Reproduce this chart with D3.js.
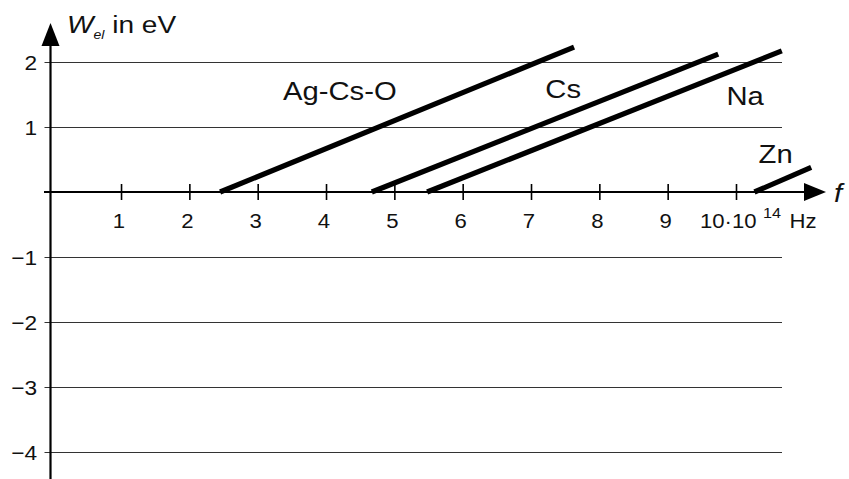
<!DOCTYPE html>
<html><head><meta charset="utf-8">
<script src="https://cdn.jsdelivr.net/npm/d3@7"></script>
<style>
body{margin:0;background:#fff}
svg text{font-family:"Liberation Sans",Arial,Helvetica,sans-serif;fill:#111}
</style></head>
<body><svg id="c" width="849" height="479"></svg>
<script>
// ---- data ----
const xTicks = [1, 2, 3, 4, 5, 6, 7, 8, 9, 10];
const xTickLabels = ["1", "2", "3", "4", "5", "6", "7", "8", "9"];
const yTicks = [2, 1, -1, -2, -3, -4];
const yTickLabels = ["2", "1", "\u22121", "\u22122", "\u22123", "\u22124"];
const seriesNames = ["Ag-Cs-O", "Cs", "Na", "Zn"];
const thresholdFreq = [2.45, 4.67, 5.48, 10.27];   // 10^14 Hz, W_el = 0
const endFreq = [7.63, 9.74, 10.67, 11.1];         // 10^14 Hz
const endEnergy = [2.23, 2.12, 2.17, 0.38];        // eV
// label anchors in data units (f, W)
const labelFreq = [3.37, 7.21, 9.86, 10.33];
const labelEnergy = [1.42, 1.45, 1.34, 0.45];

// ---- layout ----
const svg = d3.select("#c");
const x = d3.scaleLinear().domain([0, 10]).range([52.7, 736]);
const y = d3.scaleLinear().domain([0, 2]).range([192, 62]);
const SX = 1.17;  // horizontal stretch for large labels
const SXT = 1.08; // horizontal stretch for tick labels
const axisX = 50.5;
const gridRight = 782;

function stretchedText(g, px, py, str, size, anchor, sx) {
  return g.append("text")
    .attr("transform", `translate(${px},${py}) scale(${sx || SX},1)`)
    .attr("text-anchor", anchor || "start")
    .attr("font-size", size)
    .text(str);
}

// grid lines
svg.append("g").selectAll("line").data(yTicks).join("line")
  .attr("x1", axisX - 6).attr("x2", gridRight)
  .attr("y1", d => Math.round(y(d)) + 0.5).attr("y2", d => Math.round(y(d)) + 0.5)
  .attr("stroke", "#333").attr("stroke-width", 1);

// y tick labels
yTicks.forEach((d, i) => {
  stretchedText(svg, 37, Math.round(y(d)) + 7.5, yTickLabels[i], 21, "end", SXT);
});

// x axis ticks via d3 axis
const y0 = y(0);
const xAxisG = svg.append("g")
  .attr("transform", `translate(0,${Math.round(y0) - 8})`)
  .call(d3.axisBottom(x).tickValues(xTicks).tickSize(16).tickFormat(""));
xAxisG.select(".domain").remove();
xAxisG.selectAll(".tick line").attr("stroke", "#000").attr("stroke-width", 1.6);

// x axis line + arrow
const ay = Math.round(y0);
svg.append("line").attr("x1", 44).attr("x2", 808).attr("y1", ay).attr("y2", ay)
  .attr("stroke", "#000").attr("stroke-width", 2);
svg.append("path").attr("d", `M826,${ay} L804,${ay - 9} L804,${ay + 9} Z`).attr("fill", "#000");

// y axis line + arrow
svg.append("line").attr("x1", axisX).attr("x2", axisX).attr("y1", 479).attr("y2", 42)
  .attr("stroke", "#000").attr("stroke-width", 2.2);
svg.append("path").attr("d", `M${axisX},23 L${axisX - 9},46 L${axisX + 9},46 Z`).attr("fill", "#000");

// x tick labels
xTickLabels.forEach((s, i) => {
  stretchedText(svg, x(xTicks[i]) - 2, 228, s, 20.5, "middle", SXT);
});
// "10·10^14 Hz"
const t10 = stretchedText(svg, 700, 228, "", 20.5, "start", SXT);
t10.append("tspan").text("10\u00B710");
t10.append("tspan").attr("font-size", 15).attr("dx", 6).attr("dy", -10).text("14");
t10.append("tspan").attr("dy", 10).attr("dx", 2).text(" Hz");

// axis titles
const tt = stretchedText(svg, 67, 33, "", 24, "start");
tt.append("tspan").attr("font-style", "italic").text("W");
tt.append("tspan").attr("font-style", "italic").attr("font-size", 12).attr("dy", 6).text("el");
tt.append("tspan").attr("dy", -6).text(" in eV");
stretchedText(svg, 834, 202, "f", 25, "start").attr("font-style", "italic");

// series lines
const lineGen = d3.line().x(d => x(d[0])).y(d => y(d[1]));
seriesNames.forEach((name, i) => {
  svg.append("path")
    .datum([[thresholdFreq[i], 0], [endFreq[i], endEnergy[i]]])
    .attr("d", lineGen)
    .attr("fill", "none").attr("stroke", "#000").attr("stroke-width", 5.2);
  stretchedText(svg, x(labelFreq[i]), y(labelEnergy[i]), name, 25, "start");
});
</script></body></html>
